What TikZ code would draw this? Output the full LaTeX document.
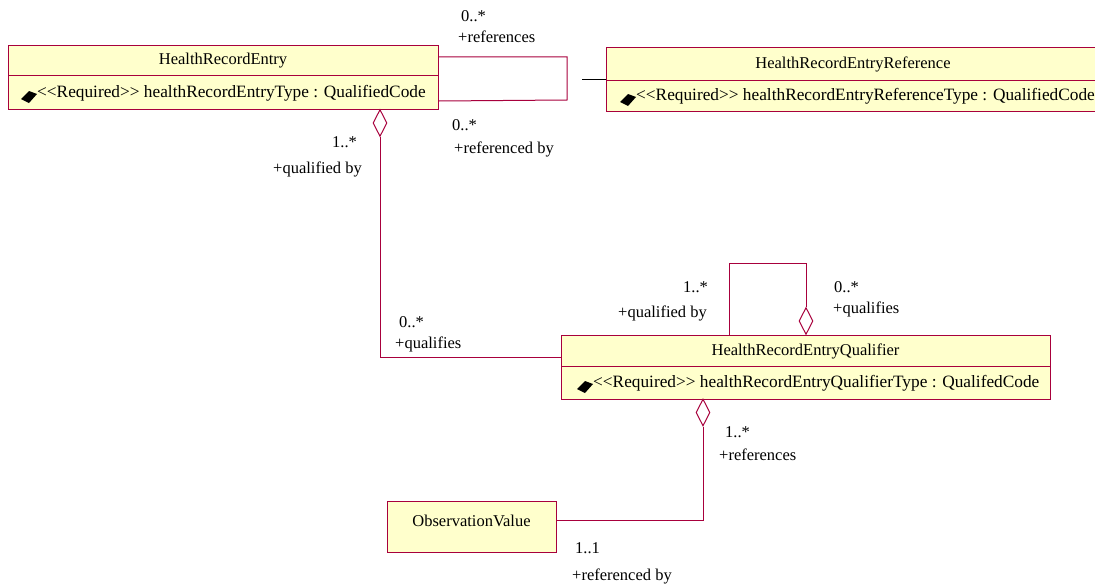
\documentclass[tikz,border=0pt]{standalone}
\usepackage{fontspec}
\setmainfont{Liberation Serif}
\usetikzlibrary{shapes.geometric}
\definecolor{umlred}{HTML}{A8003C}
\definecolor{umlfill}{HTML}{FFFFCC}
\tikzset{
  cls/.style={draw=umlred, fill=umlfill, line width=1pt, inner sep=0pt, anchor=north west},
  conn/.style={draw=umlred, line width=1pt},
  agg/.style={diamond, draw=umlred, fill=white, line width=1pt, inner sep=0pt, minimum width=14pt, minimum height=27pt},
  txt/.style={inner sep=0pt, font=\fontsize{16.5}{19}\selectfont},
  lbl/.style={txt, anchor=base west},
  attr/.style={inner sep=0pt, anchor=west, font=\fontsize{17.3}{20}\selectfont},
}
\newcommand{\attrmark}[2]{\fill[black] (#1-16,#2+6) -- (#1-8,#2-2) -- (#1,#2+1) -- (#1-8,#2+10) -- cycle;}
\newcommand{\req}{{<}{<}Required{>}{>}}
\begin{document}
\begin{tikzpicture}[x=1pt,y=-1pt]
\useasboundingbox (0,0) rectangle (1095,586);
\clip (0,0) rectangle (1095,586);

% Classes
\node[cls, minimum width=430pt, minimum height=64pt] (hre) at (8,45) {};
\draw[umlred, line width=1pt] (8,76) -- (438,76);
\node[txt] (hret) at (223,61) {HealthRecordEntry};
\node[attr] (hrea) at (37,93) {\req{} healthRecordEntryType : QualifiedCode};
\attrmark{37}{93}

\node[cls, minimum width=494pt, minimum height=64pt] (hrer) at (606,47) {};
\draw[umlred, line width=1pt] (606,81) -- (1100,81);
\node[txt] (hrert) at (853,64) {HealthRecordEntryReference};
\node[attr] (hrera) at (636,96) {\req{} healthRecordEntryReferenceType : QualifiedCode};
\attrmark{636}{96}

\node[cls, minimum width=489pt, minimum height=64pt] (hreq) at (561,335) {};
\draw[umlred, line width=1pt] (561,366) -- (1050,366);
\node[txt] (hreqt) at (805.5,351) {HealthRecordEntryQualifier};
\node[attr] (hreqa) at (593,383) {\req{} healthRecordEntryQualifierType : QualifedCode};
\attrmark{593}{383}

\node[cls, minimum width=169pt, minimum height=51pt] (ov) at (387,501) {};
\node[txt] (ovt) at (471.5,521) {ObservationValue};

% Aggregation diamonds
\node[agg] (dA) at (380,123) {};
\node[agg] (dB) at (806,321) {};
\node[agg] (dC) at (703,412.5) {};

% Connectors
\draw[conn] ([yshift=-12pt]hre.north east) -- ++(128,0) -- ++(0,43) -- ([yshift=9pt]hre.south east);
\draw[black, line width=1pt] (hrer.west) -- ++(-24,0);
\draw[conn] (dA.south) |- ([yshift=10pt]hreq.west);
\draw[conn] ([xshift=168pt]hreq.north west) -- ++(0,-72) -| (dB.north);
\draw[conn] (dC.south) |- ([yshift=6.5pt]ov.east);

% Labels
\node[lbl] at (461,22) {0..*};
\node[lbl] at (458,43) {+references};
\node[lbl] at (452,130) {0..*};
\node[lbl] at (454,153) {+referenced by};
\node[lbl] at (332,147) {1..*};
\node[lbl] at (273,173) {+qualified by};
\node[lbl] at (399,327) {0..*};
\node[lbl] at (395,348) {+qualifies};
\node[lbl] at (683,292) {1..*};
\node[lbl] at (618,317) {+qualified by};
\node[lbl] at (834,292) {0..*};
\node[lbl] at (833,313) {+qualifies};
\node[lbl] at (725,437) {1..*};
\node[lbl] at (719,460) {+references};
\node[lbl] at (575,553) {1..1};
\node[lbl] at (572,580) {+referenced by};
\end{tikzpicture}
\end{document}
